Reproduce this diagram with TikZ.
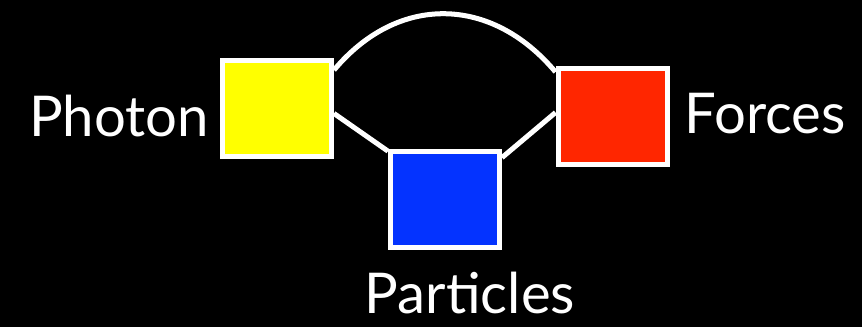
\documentclass[tikz,border=0pt]{standalone}
\usepackage{fontspec}
\setmainfont{Lato}
\usepackage{xcolor}
\usetikzlibrary{positioning}
\definecolor{boxyellow}{HTML}{FFFF00}
\definecolor{boxblue}{HTML}{0433FF}
\definecolor{boxred}{HTML}{FF2600}
\tikzset{
  colbox/.style={draw=white,line width=2.85pt,minimum width=2.18cm,minimum height=1.92cm,inner sep=0pt},
  wire/.style={white,line width=2.85pt},
  lbl/.style={text=white,font=\fontsize{32}{38}\selectfont,inner sep=0pt}
}
\begin{document}
\begin{tikzpicture}
  \fill[black] (0,0) rectangle (17.24,6.54);
  \useasboundingbox (0,0) rectangle (17.24,6.54);
  % boxes
  \node[colbox,fill=boxyellow] (photon) at (5.54,4.37) {};
  \node[colbox,fill=boxblue] (particles) at (8.90,2.56) {};
  \node[colbox,fill=boxred] (forces) at (12.25,4.21) {};
  % labels
  \node[lbl,left=0.22cm of photon,yshift=-0.16cm] (photonlbl) {Photon};
  \node[lbl,right=0.3cm of forces,yshift=0.06cm] (forceslbl) {Forces};
  \node[lbl,below=0.45cm of particles,xshift=0.5cm] (particleslbl) {Particles};
  % connectors
  \draw[wire] (photon.34) to[out=50,in=130,looseness=1.15] (forces.142);
  \draw[wire] (photon.-5) -- (particles.140);
  \draw[wire] (particles.36) -- (forces.176);
\end{tikzpicture}
\end{document}
